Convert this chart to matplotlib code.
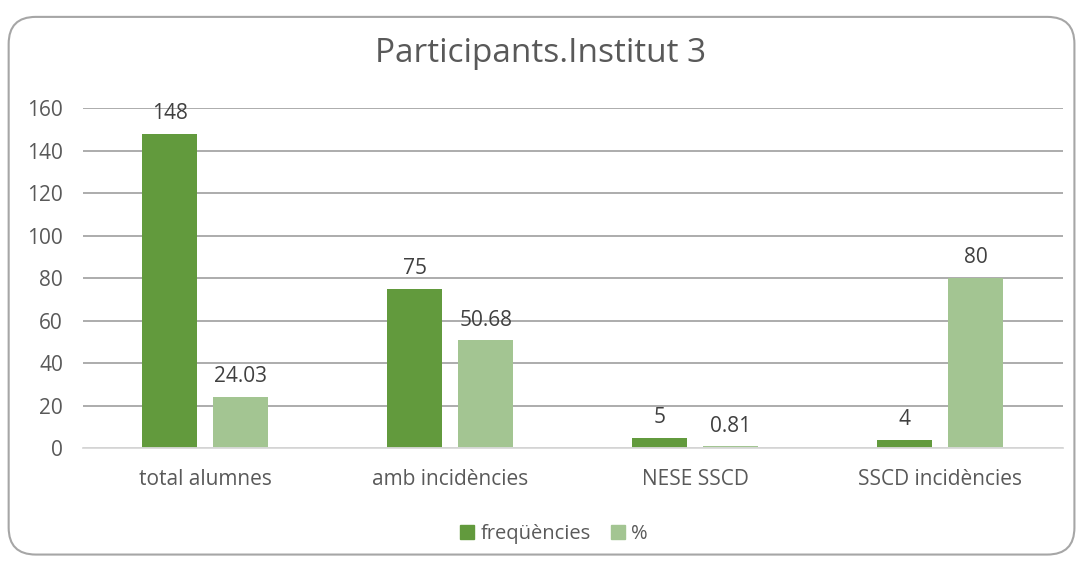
import numpy as np
from matplotlib import pyplot as plt
from matplotlib.patches import FancyBboxPatch, Patch

categories = ["total alumnes", "amb incidències", "NESE SSCD", "SSCD incidències"]
freq = [148, 75, 5, 4]
pct = [24.03, 50.68, 0.81, 80]
freq_labels = ["148", "75", "5", "4"]
pct_labels = ["24.03", "50.68", "0.81", "80"]

DARK = "#629a3d"
LIGHT = "#a3c592"
TEXT = "#595959"

plt.rcParams["font.family"] = ["Open Sans", "DejaVu Sans"]

fig = plt.figure(figsize=(10.82, 5.63), dpi=100)
border = FancyBboxPatch((0.008, 0.015), 0.985, 0.955,
                        boxstyle="round,pad=0,rounding_size=0.025",
                        transform=fig.transFigure, facecolor="none",
                        edgecolor="#a6a6a6", linewidth=1.5, mutation_aspect=1.92,
                        zorder=-5)
fig.patches.append(border)

ax = fig.add_axes([0.0763, 0.204, 0.906, 0.604])
ax.patch.set_alpha(0)
x = np.arange(len(categories))
w = 0.224
off = 0.145
ax.bar(x - off, freq, w, color=DARK, zorder=2)
ax.bar(x + off, pct, w, color=LIGHT, zorder=2)

for xi, v, s in zip(x, freq, freq_labels):
    ax.annotate(s, (xi - off, v), xytext=(0, 7), textcoords="offset points",
                ha="center", va="bottom", fontsize=15, color="#404040", zorder=3)
for xi, v, s in zip(x, pct, pct_labels):
    ax.annotate(s, (xi + off, v), xytext=(0, 7), textcoords="offset points",
                ha="center", va="bottom", fontsize=15, color="#404040", zorder=3)

ax.set_xlim(-0.5, 3.5)
ax.set_ylim(0, 160)
ax.set_yticks(range(0, 161, 20))
ax.set_xticks(x)
ax.set_xticklabels(categories)
ax.yaxis.grid(True, color="#a6a6a6", linewidth=1.3, zorder=0)
ax.set_axisbelow(True)
for s in ["top", "right", "left"]:
    ax.spines[s].set_visible(False)
ax.spines["bottom"].set_color("#d9d9d9")
ax.spines["bottom"].set_linewidth(1.3)
ax.tick_params(length=0, labelsize=15, colors=TEXT, pad=15)
ax.tick_params(axis="y", pad=14)

fig.text(0.5, 0.905, "Participants.Institut 3", ha="center", va="center", fontsize=24, color=TEXT)

handles = [Patch(color=DARK, label="freqüències"), Patch(color=LIGHT, label="%")]
fig.legend(handles=handles, loc="center", bbox_to_anchor=(0.512, 0.052), ncol=2, frameon=False,
           fontsize=14.5, labelcolor=TEXT, handlelength=0.7, handleheight=0.7,
           handletextpad=0.3, columnspacing=1.0)

fig.savefig("out.png", dpi=100)
